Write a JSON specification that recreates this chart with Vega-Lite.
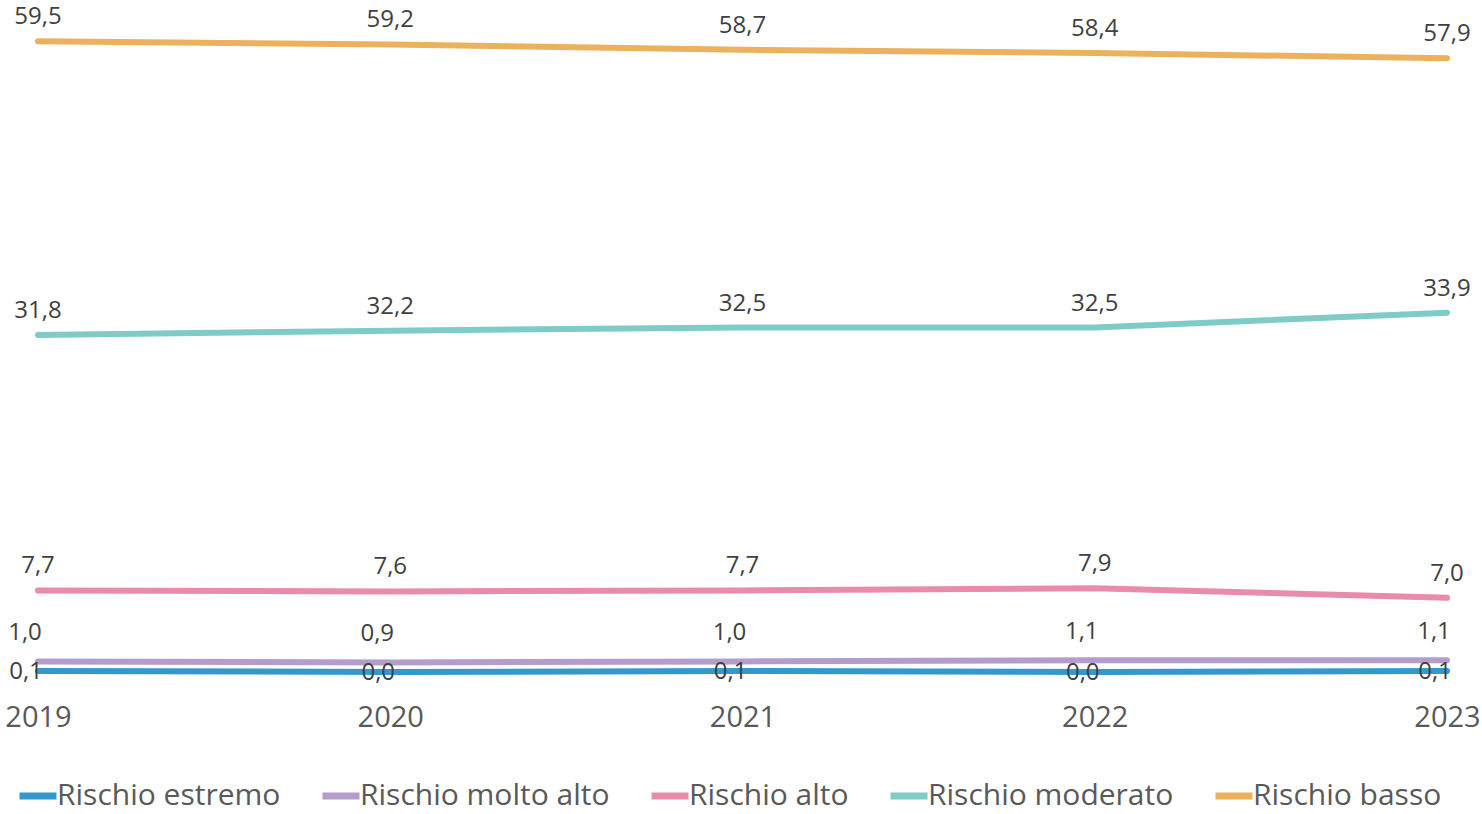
{
  "$schema": "https://vega.github.io/schema/vega-lite/v6.json",
  "width": 1409,
  "height": 636,
  "autosize": {"type": "none"},
  "padding": {"left": 38, "top": 36, "right": 35, "bottom": 142},
  "background": "white",
  "data": {
    "values": [
      {"year": "2019", "serie": "Rischio estremo", "v": 0.1},
      {"year": "2020", "serie": "Rischio estremo", "v": 0.0},
      {"year": "2021", "serie": "Rischio estremo", "v": 0.1},
      {"year": "2022", "serie": "Rischio estremo", "v": 0.0},
      {"year": "2023", "serie": "Rischio estremo", "v": 0.1},
      {"year": "2019", "serie": "Rischio molto alto", "v": 1.0},
      {"year": "2020", "serie": "Rischio molto alto", "v": 0.9},
      {"year": "2021", "serie": "Rischio molto alto", "v": 1.0},
      {"year": "2022", "serie": "Rischio molto alto", "v": 1.1},
      {"year": "2023", "serie": "Rischio molto alto", "v": 1.1},
      {"year": "2019", "serie": "Rischio alto", "v": 7.7},
      {"year": "2020", "serie": "Rischio alto", "v": 7.6},
      {"year": "2021", "serie": "Rischio alto", "v": 7.7},
      {"year": "2022", "serie": "Rischio alto", "v": 7.9},
      {"year": "2023", "serie": "Rischio alto", "v": 7.0},
      {"year": "2019", "serie": "Rischio moderato", "v": 31.8},
      {"year": "2020", "serie": "Rischio moderato", "v": 32.2},
      {"year": "2021", "serie": "Rischio moderato", "v": 32.5},
      {"year": "2022", "serie": "Rischio moderato", "v": 32.5},
      {"year": "2023", "serie": "Rischio moderato", "v": 33.9},
      {"year": "2019", "serie": "Rischio basso", "v": 59.5},
      {"year": "2020", "serie": "Rischio basso", "v": 59.2},
      {"year": "2021", "serie": "Rischio basso", "v": 58.7},
      {"year": "2022", "serie": "Rischio basso", "v": 58.4},
      {"year": "2023", "serie": "Rischio basso", "v": 57.9}
    ]
  },
  "encoding": {
    "x": {
      "field": "year", "type": "ordinal",
      "scale": {"type": "point", "padding": 0},
      "axis": {"title": null, "labelAngle": 0, "domain": false, "ticks": false, "grid": false,
               "labelFontSize": 29, "labelColor": "#595959", "labelPadding": 31, "labelFont": "Open Sans"}
    },
    "y": {
      "field": "v", "type": "quantitative",
      "scale": {"domain": [0, 60], "nice": false, "zero": true},
      "axis": null
    }
  },
  "layer": [
    {
      "mark": {"type": "line", "strokeWidth": 6, "strokeCap": "round", "strokeJoin": "round"},
      "encoding": {
        "color": {
          "field": "serie", "type": "nominal",
          "scale": {
            "domain": ["Rischio estremo", "Rischio molto alto", "Rischio alto", "Rischio moderato", "Rischio basso"],
            "range": ["#3399CC", "#B59DCB", "#E98BAA", "#7ECBC8", "#EBB15C"]
          },
          "legend": {
            "title": null, "orient": "none", "direction": "horizontal",
            "legendX": -22, "legendY": 738,
            "symbolType": "stroke", "symbolSize": 1369, "symbolStrokeWidth": 7,
            "labelFontSize": 30, "labelColor": "#595959", "labelFont": "Open Sans", "labelLimit": 500,
            "labelOffset": -3, "columnPadding": 27, "symbolOffset": 0
          }
        }
      }
    },
    {
      "transform": [{"filter": "datum.serie === 'Rischio alto' || datum.serie === 'Rischio moderato' || datum.serie === 'Rischio basso'"}],
      "mark": {"type": "text", "dy": -24, "baseline": "middle", "fontSize": 24, "color": "#404040"},
      "encoding": {"text": {"field": "v", "type": "quantitative", "format": ".1f"}}
    },
    {
      "transform": [{"filter": "datum.serie === 'Rischio molto alto'"}],
      "mark": {"type": "text", "dy": -28, "dx": -13, "baseline": "middle", "fontSize": 24, "color": "#404040"},
      "encoding": {"text": {"field": "v", "type": "quantitative", "format": ".1f"}}
    },
    {
      "transform": [{"filter": "datum.serie === 'Rischio estremo'"}],
      "mark": {"type": "text", "dy": 1, "dx": -12, "baseline": "middle", "fontSize": 24, "color": "#404040"},
      "encoding": {"text": {"field": "v", "type": "quantitative", "format": ".1f"}}
    }
  ],
  "config": {"view": {"stroke": null}, "font": "Open Sans", "locale": {"number": {"decimal": ",", "thousands": ".", "grouping": [3], "currency": ["€", ""]}}}
}
